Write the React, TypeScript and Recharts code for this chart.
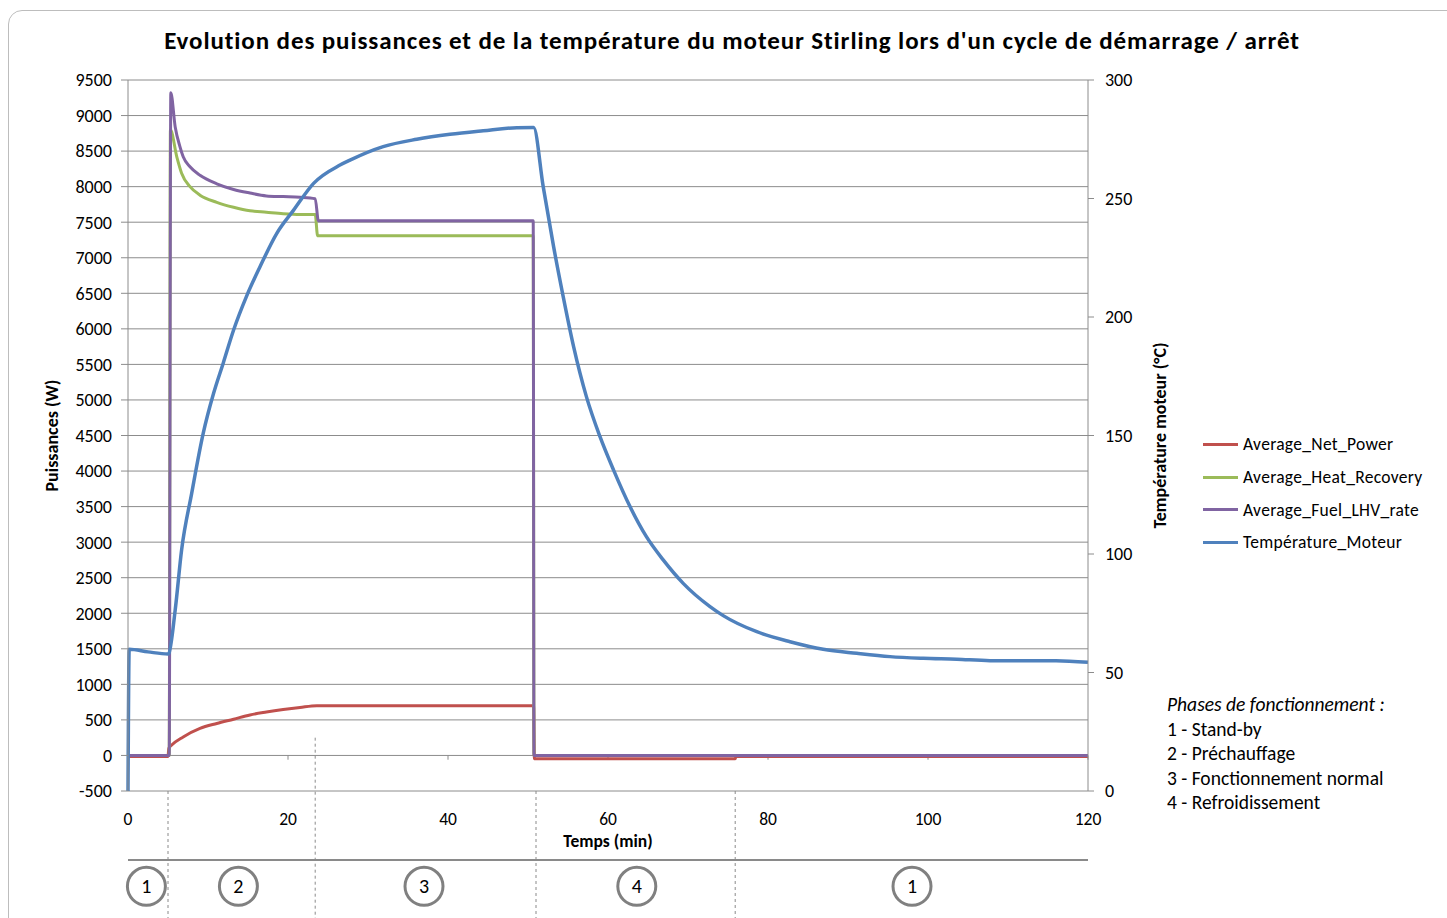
import React from "react"
import {
  CartesianGrid,
  Line,
  LineChart,
  ReferenceDot,
  ReferenceLine,
  XAxis,
  YAxis,
} from "recharts"

const FONT = "Carlito, Lato, sans-serif"
const GRID = "#8c8c8c"

// axes
const timeTicks = [0, 20, 40, 60, 80, 100, 120]
const powerTicks = [
  -500, 0, 500, 1000, 1500, 2000, 2500, 3000, 3500, 4000, 4500, 5000, 5500, 6000, 6500, 7000,
  7500, 8000, 8500, 9000, 9500,
]
const tempTicks = [0, 50, 100, 150, 200, 250, 300]

// Average_Net_Power (W)
const netPowerT = [0, 5, 5.1, 5.5, 6.9, 9, 11.1, 13.2, 15.25, 17.3, 19.4, 21.5, 23.6, 50.7, 50.8, 75.9, 76, 120]
const netPowerW = [-15, -15, 100, 150, 260, 380, 450, 510, 570, 610, 645, 675, 700, 700, -45, -45, -15, -15]

// Average_Heat_Recovery (W)
const heatRecT = [0, 5.15, 5.3, 6.1, 6.7, 7.75, 9, 11.1, 13.2, 15.25, 17.3, 19.4, 21.5, 23.4, 23.7, 50.65, 50.75, 120]
const heatRecW = [0, 0, 8800, 8420, 8190, 8000, 7880, 7780, 7710, 7660, 7640, 7620, 7610, 7610, 7310, 7310, 0, 0]

// Average_Fuel_LHV_rate (W)
const fuelT = [0, 5.15, 5.35, 5.9, 6.5, 6.9, 7.75, 9, 11.1, 13.2, 15.25, 17.3, 19.4, 21.5, 23.4, 23.8, 50.65, 50.75, 120]
const fuelW = [0, 0, 9320, 8840, 8560, 8420, 8280, 8160, 8040, 7960, 7910, 7870, 7860, 7850, 7830, 7520, 7520, 0, 0]

// Température_Moteur (°C)
const tempT = [
  0, 0.15, 2.5, 5, 5.1, 5.9, 6.7, 7.96, 9.4, 10.7, 11.9, 13.2, 14.8, 16.5, 18.6, 20.7, 23.2, 26.5,
  27.75, 31.9, 36.1, 40.25, 44.4, 48.6, 50.7, 51.9, 53.2, 54.4, 55.7, 57.3, 59, 60.7, 62.75, 64.8,
  66.9, 69.4, 72.75, 74.4, 78.6, 82.75, 86.9, 91.1, 95.25, 99.4, 103.6, 107.75, 116, 120,
]
const tempC = [
  0, 59.8, 58.7, 57.8, 58, 76.4, 101.7, 125.6, 150.9, 167.8, 180.5, 194.5, 208.6, 221.2, 235.3,
  245.1, 256.4, 264.1, 266.2, 271.9, 275, 277.1, 278.6, 279.9, 280, 255, 229.7, 208.6, 187.5, 166.4,
  149.5, 135.4, 120, 107.3, 97.5, 87.6, 77.8, 74, 67.2, 63, 59.8, 58.1, 56.7, 56, 55.6, 55, 55, 54.3,
]

// phases (min)
const phaseBounds = [5, 23.4, 51, 75.9]
const phaseLineTop = [-500, 250, -500, -500]
const phaseCenters = [2.3, 13.8, 37, 63.6, 98]
const phaseNumbers = ["1", "2", "3", "4", "1"]
const phaseNotes = ["1 - Stand-by", "2 - Préchauffage", "3 - Fonctionnement normal", "4 - Refroidissement"]

// annotation levels below the plot, in W units of the left axis
const BAND_LINE = -1470
const BAND_CIRCLE = -1840
const BAND_BOTTOM = -2300

const series = [
  { name: "Average_Net_Power", color: "#C0504D", t: netPowerT, v: netPowerW, axis: "left", w: 3 },
  { name: "Average_Heat_Recovery", color: "#9BBB59", t: heatRecT, v: heatRecW, axis: "left", w: 3 },
  { name: "Average_Fuel_LHV_rate", color: "#8064A2", t: fuelT, v: fuelW, axis: "left", w: 3 },
  { name: "Température_Moteur", color: "#4F81BD", t: tempT, v: tempC, axis: "right", w: 3.5 },
]

const toPoints = (t: number[], v: number[]) => t.map((x, i) => ({ t: x, v: v[i] }))

const tickStyle = { fill: "#000", fontSize: 18, fontFamily: FONT }
const titleStyle = { fontWeight: 700, fontSize: 18, fill: "#000", fontFamily: FONT }

export default function App() {
  return (
    <div
      style={{
        position: "absolute",
        left: 0,
        top: 0,
        width: 1447,
        height: 918,
        overflow: "hidden",
        background: "#fff",
        fontFamily: FONT,
      }}
    >
      <div
        style={{
          position: "absolute",
          left: 8,
          top: 10,
          width: 1460,
          height: 930,
          border: "1px solid #bdbdbd",
          borderRadius: 14,
        }}
      />
      <LineChart width={1447} height={918} margin={{ top: 80, right: 259, bottom: 67, left: 28 }}>
        <CartesianGrid vertical={false} stroke={GRID} yAxisId="left" />
        <XAxis
          dataKey="t"
          type="number"
          domain={[0, 120]}
          ticks={timeTicks}
          interval={0}
          axisLine={false}
          tickLine={false}
          tickSize={0}
          tickMargin={22}
          height={60}
          tick={{ ...tickStyle, fontSize: 17.5 }}
          label={{
            value: "Temps (min)",
            position: "insideTop",
            offset: 44,
            style: { ...titleStyle, fontSize: 17.5 },
          }}
        />
        <YAxis
          yAxisId="left"
          orientation="left"
          width={100}
          domain={[-500, 9500]}
          ticks={powerTicks}
          interval={0}
          axisLine={{ stroke: GRID }}
          tickLine={{ stroke: GRID }}
          tickSize={7}
          tickMargin={9}
          tick={tickStyle}
          label={{
            value: "Puissances  (W)",
            angle: -90,
            position: "insideLeft",
            offset: 24,
            style: { ...titleStyle, textAnchor: "middle", whiteSpace: "pre" },
          }}
        />
        <YAxis
          yAxisId="right"
          orientation="right"
          width={100}
          domain={[0, 300]}
          ticks={tempTicks}
          interval={0}
          axisLine={{ stroke: GRID }}
          tickLine={{ stroke: GRID }}
          tickSize={6}
          tickMargin={11}
          tick={tickStyle}
          label={{
            value: "Température moteur (°C)",
            angle: -90,
            position: "insideLeft",
            offset: 72,
            style: { ...titleStyle, textAnchor: "middle" },
          }}
        />

        {timeTicks.slice(1).map((t) => (
          <ReferenceLine
            key={`xt-${t}`}
            yAxisId="left"
            segment={[{ x: t, y: 0 }, { x: t, y: -60 }]}
            stroke={GRID}
            ifOverflow="visible"
          />
        ))}

        {series.map((s) => (
          <Line
            key={s.name}
            data={toPoints(s.t, s.v)}
            dataKey="v"
            name={s.name}
            yAxisId={s.axis}
            type="monotone"
            stroke={s.color}
            strokeWidth={s.w}
            dot={false}
            activeDot={false}
            isAnimationActive={false}
          />
        ))}

        <ReferenceLine
          yAxisId="left"
          segment={[{ x: 0, y: BAND_LINE }, { x: 120, y: BAND_LINE }]}
          stroke="#8a8a8a"
          strokeWidth={2}
          ifOverflow="visible"
        />
        {phaseBounds.map((b, i) => (
          <ReferenceLine
            key={`pb-${i}`}
            yAxisId="left"
            segment={[{ x: b, y: phaseLineTop[i] }, { x: b, y: BAND_BOTTOM }]}
            stroke="#8a8a8a"
            strokeDasharray="3 3"
            ifOverflow="visible"
          />
        ))}
        {phaseCenters.map((c, i) => (
          <ReferenceDot
            key={`pc-${i}`}
            yAxisId="left"
            x={c}
            y={BAND_CIRCLE}
            r={19}
            fill="#fff"
            stroke="#808080"
            strokeWidth={3}
            ifOverflow="visible"
            label={{ value: phaseNumbers[i], position: "center", fill: "#000", fontSize: 20, fontFamily: FONT }}
          />
        ))}
      </LineChart>

      <div
        style={{
          position: "absolute",
          left: 0,
          width: 1464,
          top: 26,
          lineHeight: "30px",
          textAlign: "center",
          fontWeight: 700,
          fontSize: 25,
          letterSpacing: 0.9,
          color: "#000",
        }}
      >
        Evolution des puissances et de la température du moteur Stirling lors d'un cycle de démarrage / arrêt
      </div>

      <div style={{ position: "absolute", left: 1203, top: 428 }}>
        {series.map((s) => (
          <div key={s.name} style={{ display: "flex", alignItems: "center", height: 32.7 }}>
            <div style={{ width: 35, height: 3, background: s.color, marginRight: 5 }} />
            <span style={{ fontSize: 17.5, letterSpacing: 0.3, color: "#000" }}>{s.name}</span>
          </div>
        ))}
      </div>

      <div style={{ position: "absolute", left: 1167, top: 692, fontSize: 19.5, lineHeight: "24.5px", color: "#000" }}>
        <div style={{ fontStyle: "italic" }}>Phases de fonctionnement :</div>
        {phaseNotes.map((n) => (
          <div key={n}>{n}</div>
        ))}
      </div>
    </div>
  )
}
